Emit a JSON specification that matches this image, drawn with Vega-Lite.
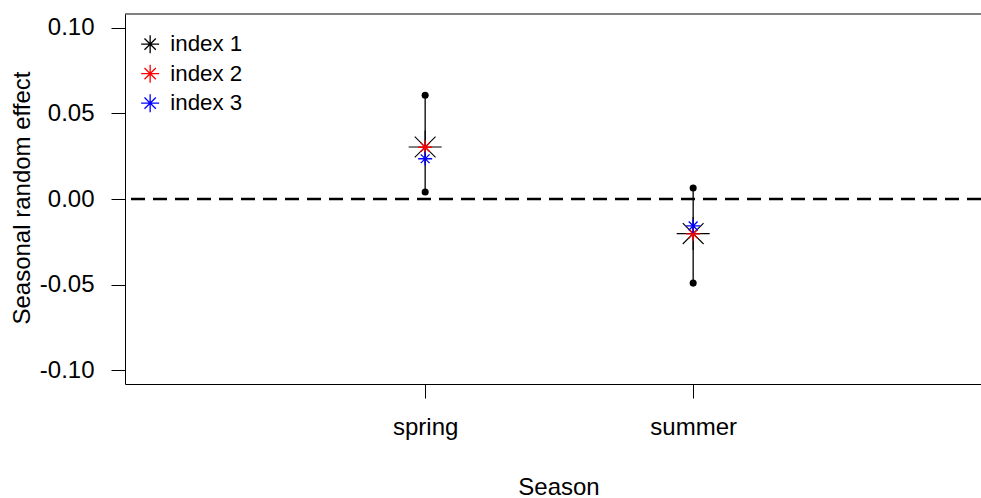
{
  "$schema": "https://vega.github.io/schema/vega-lite/v6.json",
  "width": 856,
  "height": 370,
  "autosize": {"type": "none"},
  "padding": {"left": 125, "top": 14, "right": 0, "bottom": 114},
  "background": "white",
  "config": {"view": {"stroke": null}, "font": "Liberation Sans"},
  "datasets": {
    "est": [
      {"season": "spring", "pos": 1, "index": "index 1", "effect": 0.0304},
      {"season": "spring", "pos": 1, "index": "index 2", "effect": 0.0302},
      {"season": "spring", "pos": 1, "index": "index 3", "effect": 0.0235},
      {"season": "summer", "pos": 2, "index": "index 1", "effect": -0.0202},
      {"season": "summer", "pos": 2, "index": "index 2", "effect": -0.0204},
      {"season": "summer", "pos": 2, "index": "index 3", "effect": -0.0157}
    ],
    "ci": [
      {"season": "spring", "pos": 1, "lower": 0.0041, "upper": 0.0606},
      {"season": "summer", "pos": 2, "lower": -0.0491, "upper": 0.0064}
    ],
    "ref": [{"zero": 0, "top": 0.108}]
  },
  "layer": [
    {
      "data": {"name": "ref"},
      "mark": {"type": "rule", "color": "black", "strokeWidth": 1},
      "encoding": {
        "y": {"field": "top", "type": "quantitative", "scale": {"domain": [-0.108, 0.108], "nice": false, "zero": false},
          "title": "Seasonal random effect",
          "axis": {"values": [-0.1, -0.05, 0, 0.05, 0.1], "labelExpr": "replace(format(datum.value, '.2f'), '\u2212', '-')", "grid": false, "domainColor": "black", "domainWidth": 1, "tickColor": "black", "tickSize": 14, "tickWidth": 1, "labelPadding": 17, "labelFontSize": 24, "labelColor": "black", "labelFont": "Liberation Sans", "labelAngle": 0, "titleFontSize": 24, "titleFont": "Liberation Sans", "titleFontWeight": "normal", "titleColor": "black", "titleAngle": 270, "titleX": -103, "titleY": 183.5, "titleAlign": "center", "titleBaseline": "middle"}}
      }
    },
    {
      "data": {"name": "ref"},
      "mark": {"type": "rule", "color": "black", "strokeWidth": 2.5, "strokeDash": [14, 8]},
      "encoding": {
        "y": {"field": "zero", "type": "quantitative", "title": "Seasonal random effect"}
      }
    },
    {
      "data": {"name": "ci"},
      "mark": {"type": "rule", "color": "black", "strokeWidth": 1.3},
      "encoding": {
        "x": {"field": "pos", "type": "quantitative", "scale": {"domain": [-0.12, 3.074], "nice": false, "zero": false},
          "title": "Season",
          "axis": {"values": [1, 2], "labelExpr": "datum.value == 1 ? 'spring' : 'summer'", "grid": false, "domainColor": "black", "domainWidth": 1, "tickColor": "black", "tickSize": 14, "tickWidth": 1, "labelPadding": 17, "labelFontSize": 24, "labelColor": "black", "labelFont": "Liberation Sans", "labelAngle": 0, "titleFontSize": 24, "titleFont": "Liberation Sans", "titleFontWeight": "normal", "titleColor": "black", "titleX": 433.5, "titleY": 110, "titleAlign": "center", "titleBaseline": "alphabetic"}},
        "y": {"field": "lower", "type": "quantitative", "title": "Seasonal random effect"},
        "y2": {"field": "upper"}
      }
    },
    {
      "data": {"name": "ci"},
      "mark": {"type": "point", "filled": true, "color": "black", "size": 50, "opacity": 1},
      "encoding": {
        "x": {"field": "pos", "type": "quantitative", "title": "Season"},
        "y": {"field": "lower", "type": "quantitative", "title": "Seasonal random effect"}
      }
    },
    {
      "data": {"name": "ci"},
      "mark": {"type": "point", "filled": true, "color": "black", "size": 50, "opacity": 1},
      "encoding": {
        "x": {"field": "pos", "type": "quantitative", "title": "Season"},
        "y": {"field": "upper", "type": "quantitative", "title": "Seasonal random effect"}
      }
    },
    {
      "data": {"name": "est"},
      "transform": [{"filter": "datum.index == 'index 1'"}],
      "mark": {"type": "point", "filled": false, "opacity": 1, "strokeWidth": 1.1, "size": 1089, "shape": "M-1,0L1,0M0,-1L0,1M-0.63,-0.63L0.63,0.63M-0.63,0.63L0.63,-0.63"},
      "encoding": {
        "x": {"field": "pos", "type": "quantitative", "title": "Season"},
        "y": {"field": "effect", "type": "quantitative", "title": "Seasonal random effect"},
        "color": {"field": "index", "type": "nominal", "scale": {"domain": ["index 1", "index 2", "index 3"], "range": ["black", "red", "blue"]},
          "legend": {"orient": "none", "legendX": 14, "legendY": 19, "title": null, "padding": 0, "symbolType": "M-1,0L1,0M0,-1L0,1M-0.63,-0.63L0.63,0.63M-0.63,0.63L0.63,-0.63", "symbolSize": 324, "symbolStrokeWidth": 1.3, "symbolFillColor": "transparent", "labelFontSize": 22.3, "labelFont": "Liberation Sans", "labelColor": "black", "labelOffset": 9, "rowPadding": 5.5}}
      }
    },
    {
      "data": {"name": "est"},
      "transform": [{"filter": "datum.index != 'index 1'"}],
      "mark": {"type": "point", "filled": false, "opacity": 1, "strokeWidth": 1.3, "size": 196, "shape": "M-1,0L1,0M0,-1L0,1M-0.63,-0.63L0.63,0.63M-0.63,0.63L0.63,-0.63"},
      "encoding": {
        "x": {"field": "pos", "type": "quantitative", "title": "Season"},
        "y": {"field": "effect", "type": "quantitative", "title": "Seasonal random effect"},
        "color": {"field": "index", "type": "nominal"}
      }
    }
  ]
}
